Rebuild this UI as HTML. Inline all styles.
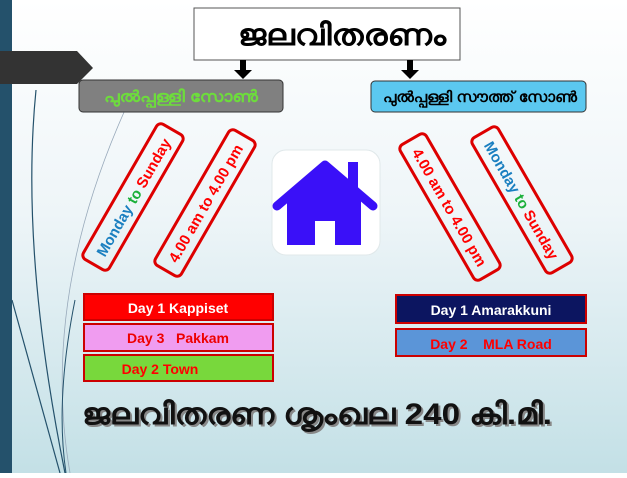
<!DOCTYPE html>
<html><head><meta charset="utf-8"><style>
body{margin:0;width:627px;height:473px;overflow:hidden;font-family:"Liberation Sans","Noto Sans CJK SC",sans-serif}
</style></head><body>
<svg width="627" height="473" viewBox="0 0 627 473" xmlns="http://www.w3.org/2000/svg" font-family="'Liberation Sans', 'Noto Sans CJK SC', sans-serif">
<defs>
<linearGradient id="bg" x1="0" y1="0" x2="0" y2="1">
<stop offset="0" stop-color="#ffffff"/><stop offset="0.45" stop-color="#eef5f8"/><stop offset="1" stop-color="#c3e0e6"/></linearGradient>
</defs>
<rect width="627" height="473" fill="url(#bg)"/>
<rect x="0" y="0" width="12" height="473" fill="#24516b"/>
<path d="M36 90 Q20 250 65 473" stroke="#24516b" stroke-width="1.2" fill="none"/>
<path d="M12 300 Q40 400 60 473" stroke="#24516b" stroke-width="1.2" fill="none"/>
<path d="M125 110 Q40 300 70 473" stroke="#9ab" stroke-width="0.8" fill="none"/>
<path d="M75 300 Q55 400 66 473" stroke="#24516b" stroke-width="1" fill="none"/>
<polygon points="0,51 77,51 93,68 77,84 0,84" fill="#333"/>
<rect x="194" y="8" width="266" height="52" fill="#fff" stroke="#555" stroke-width="1"/>
<text x="238" y="45" textLength="208" lengthAdjust="spacingAndGlyphs" font-size="30" font-weight="bold" fill="#000">ജലവിതരണം</text>
<rect x="240" y="60" width="6" height="11" fill="#000"/><polygon points="234,70 252,70 243,79" fill="#000"/>
<rect x="407" y="60" width="6" height="11" fill="#000"/><polygon points="401,70 419,70 410,79" fill="#000"/>
<rect x="79" y="80" width="204" height="32" rx="4" fill="#808080" stroke="#333"/>
<text x="104" y="102" textLength="154" lengthAdjust="spacingAndGlyphs" font-size="16" font-weight="bold" fill="#6ddc3c">പുൽപ്പള്ളി സോൺ</text>
<rect x="371" y="81" width="215" height="31" rx="4" fill="#5bc8f0" stroke="#333"/>
<text x="383" y="102" textLength="194" lengthAdjust="spacingAndGlyphs" font-size="15" font-weight="bold" fill="#000">പുൽപ്പള്ളി സൗത്ത് സോൺ</text>
<g transform="translate(133,197) rotate(-60)">
<rect x="-78" y="-15" width="156" height="30" rx="5" fill="none" stroke="#d00" stroke-width="3"/>
<text x="0" y="6" text-anchor="middle" font-size="15" font-weight="bold"><tspan fill="#1a7fc0">Monday </tspan><tspan fill="#1bb03a">to </tspan><tspan fill="#f00">Sunday</tspan></text></g>
<g transform="translate(205,203) rotate(-60)">
<rect x="-78" y="-15" width="156" height="30" rx="5" fill="none" stroke="#d00" stroke-width="3"/>
<text x="0" y="6" text-anchor="middle" font-size="15" font-weight="bold" fill="#f00">4.00 am to 4.00 pm</text></g>
<g transform="translate(450,207) rotate(60)">
<rect x="-78" y="-15" width="156" height="30" rx="5" fill="none" stroke="#d00" stroke-width="3"/>
<text x="0" y="6" text-anchor="middle" font-size="15" font-weight="bold" fill="#f00">4.00 am to 4.00 pm</text></g>
<g transform="translate(522,200) rotate(60)">
<rect x="-78" y="-15" width="156" height="30" rx="5" fill="none" stroke="#d00" stroke-width="3"/>
<text x="0" y="6" text-anchor="middle" font-size="15" font-weight="bold"><tspan fill="#1a7fc0">Monday </tspan><tspan fill="#1bb03a">to </tspan><tspan fill="#f00">Sunday</tspan></text></g>
<rect x="272" y="150" width="108" height="105" rx="14" fill="#fff" stroke="#e0e8ea"/>
<polygon points="287,200 325,168 361,200 361,245 335,245 335,221 315,221 315,245 287,245" fill="#3a10f8"/>
<polyline points="277,206 325,165 373,206" fill="none" stroke="#3a10f8" stroke-width="9" stroke-linecap="round" stroke-linejoin="round"/>
<rect x="348" y="162" width="10" height="26" fill="#3a10f8"/>
<rect x="84" y="294" width="189" height="26" fill="#f00" stroke="#c00" stroke-width="2"/>
<text x="178" y="313" text-anchor="middle" font-size="14" font-weight="bold" fill="#fff">Day 1 Kappiset</text>
<rect x="84" y="324" width="189" height="27" fill="#f09cf0" stroke="#c00" stroke-width="2"/>
<text x="178" y="343" text-anchor="middle" font-size="14" font-weight="bold" fill="#e00">Day 3 &#160; Pakkam</text>
<rect x="84" y="355" width="189" height="26" fill="#78d83c" stroke="#c00" stroke-width="2"/>
<text x="160" y="374" text-anchor="middle" font-size="14" font-weight="bold" fill="#f00">Day 2 Town</text>
<rect x="396" y="295" width="190" height="28" fill="#0c1560" stroke="#c00" stroke-width="2"/>
<text x="491" y="315" text-anchor="middle" font-size="14" font-weight="bold" fill="#fff">Day 1 Amarakkuni</text>
<rect x="396" y="329" width="190" height="27" fill="#5b95d8" stroke="#c00" stroke-width="2"/>
<text x="491" y="349" text-anchor="middle" font-size="14" font-weight="bold" fill="#f00">Day 2 &#160;&#160; MLA Road</text>
<text x="84" y="426" textLength="470" lengthAdjust="spacingAndGlyphs" font-size="30" font-weight="bold" fill="#888">ജലവിതരണ ശൃംഖല 240 കി.മി.</text>
<text x="82" y="424" textLength="470" lengthAdjust="spacingAndGlyphs" font-size="30" font-weight="bold" fill="#111">ജലവിതരണ ശൃംഖല 240 കി.മി.</text>
</svg>
</body></html>
